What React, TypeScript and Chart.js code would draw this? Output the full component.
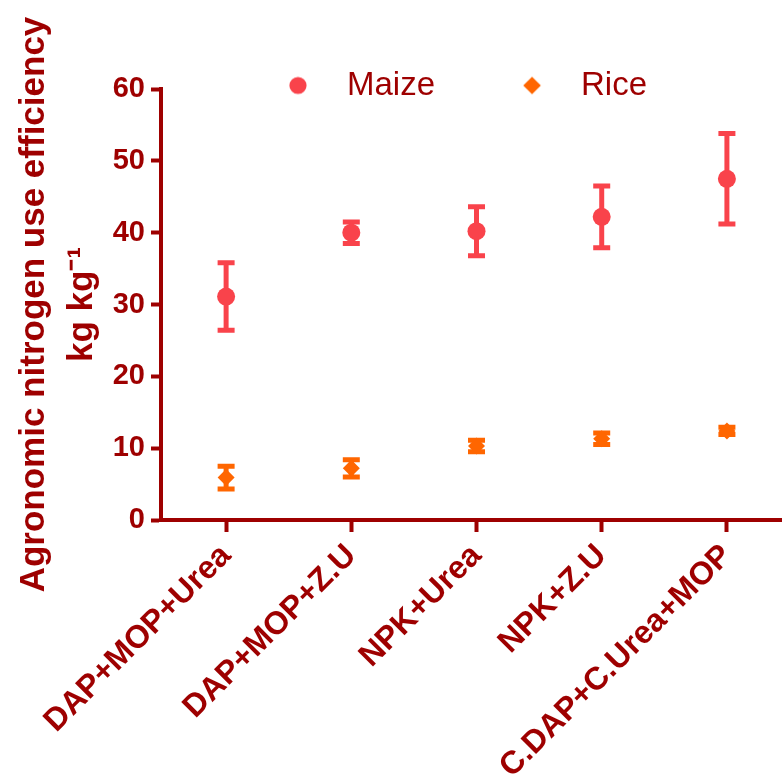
import React, { useEffect, useRef } from 'react';
import { Chart, registerables } from 'chart.js';

Chart.register(...registerables);

const categories = ['DAP+MOP+Urea', 'DAP+MOP+Z.U', 'NPK+Urea', 'NPK+Z.U', 'C.DAP+C.Urea+MOP'];
const seriesNames = ['Maize', 'Rice'];
const maizeMean = [31.1, 40.0, 40.2, 42.2, 47.5];
const maizeErr = [4.7, 1.5, 3.4, 4.3, 6.3];
const riceMean = [5.9, 7.2, 10.3, 11.3, 12.4];
const riceErr = [1.6, 1.2, 0.8, 0.8, 0.5];
const yTitle = ['Agronomic nitrogen use efficiency', 'kg kg\u207B\u00B9'];

const DARK = '#9E0000';
const MAIZE = '#F9434B';
const RICE = '#FF6600';
const FONT = "'Liberation Sans', Arial, sans-serif";

function markerCanvas(kind: string, color: string) {
  const c = document.createElement('canvas');
  c.width = 20;
  c.height = 20;
  const ctx = c.getContext('2d')!;
  ctx.fillStyle = color;
  ctx.beginPath();
  if (kind === 'circle') {
    ctx.arc(10, 10, 8.6, 0, Math.PI * 2);
  } else {
    ctx.moveTo(10, 1.2);
    ctx.lineTo(18.8, 10);
    ctx.lineTo(10, 18.8);
    ctx.lineTo(1.2, 10);
    ctx.closePath();
  }
  ctx.fill();
  return c;
}

const errorBars = {
  id: 'errorBars',
  beforeDatasetsDraw(chart: any) {
    const ctx = chart.ctx;
    const ys = chart.scales.y;
    chart.data.datasets.forEach((ds: any, i: number) => {
      const meta = chart.getDatasetMeta(i);
      meta.data.forEach((pt: any, j: number) => {
        const v = ds.data[j].y;
        const e = ds.errors[j];
        const x = pt.x;
        const top = ys.getPixelForValue(v + e);
        const bot = ys.getPixelForValue(v - e);
        ctx.save();
        ctx.strokeStyle = ds.borderColor;
        ctx.lineWidth = 5;
        ctx.beginPath();
        ctx.moveTo(x, top);
        ctx.lineTo(x, bot);
        ctx.stroke();
        ctx.beginPath();
        ctx.moveTo(x - 8.5, top);
        ctx.lineTo(x + 8.5, top);
        ctx.moveTo(x - 8.5, bot);
        ctx.lineTo(x + 8.5, bot);
        ctx.stroke();
        ctx.restore();
      });
    });
  },
};

const legendPlace = {
  id: 'legendPlace',
  afterLayout(chart: any) {
    const lg = chart.legend;
    if (!lg) return;
    const pad = lg.options.labels.padding;
    lg.left = 265.5 - pad;
    lg.right = chart.width;
    lg.top = 85.5 - pad - 16.5;
    lg.bottom = lg.top + 2 * pad + 60;
  },
};

export default function App() {
  const ref = useRef<HTMLCanvasElement>(null);
  useEffect(() => {
    if (!ref.current) return;
    const markers = [markerCanvas('circle', MAIZE), markerCanvas('diamond', RICE)];
    const yTickFont = { family: FONT, size: 29, weight: 'bold' as const };
    const xTickFont = { family: FONT, size: 32, weight: 'bold' as const };
    const chart = new Chart(ref.current, {
      type: 'scatter',
      data: {
        datasets: [
          {
            label: seriesNames[0],
            data: maizeMean.map((y, i) => ({ x: i, y })),
            errors: maizeErr,
            pointStyle: 'circle',
            pointRadius: 9,
            pointHoverRadius: 9,
            pointBorderWidth: 0,
            backgroundColor: MAIZE,
            borderColor: MAIZE,
            showLine: false,
          } as any,
          {
            label: seriesNames[1],
            data: riceMean.map((y, i) => ({ x: i, y })),
            errors: riceErr,
            pointStyle: 'rectRot',
            pointRadius: 8.5,
            pointHoverRadius: 8.5,
            pointBorderWidth: 0,
            backgroundColor: RICE,
            borderColor: RICE,
            showLine: false,
          } as any,
        ],
      },
      options: {
        animation: false,
        responsive: false,
        layout: { autoPadding: false, padding: { top: 88, left: 0, right: 0, bottom: 0 } },
        plugins: {
          tooltip: { enabled: false },
          legend: {
            display: true,
            position: 'top',
            align: 'start',
            maxHeight: 1,
            labels: {
              usePointStyle: true,
              pointStyleWidth: 65,
              padding: 64.5,
              color: DARK,
              font: { family: FONT, size: 33, weight: 'normal' },
              generateLabels: (chart: any) => {
                const items = Chart.defaults.plugins.legend.labels.generateLabels(chart);
                return items.map((it: any, i: number) => ({ ...it, pointStyle: markers[i] }));
              },
            },
          },
        },
        scales: {
          x: {
            type: 'linear',
            min: -0.52,
            max: 4.44,
            afterBuildTicks: (s: any) => {
              s.ticks = categories.map((_, i) => ({ value: i }));
            },
            afterFit: (s: any) => {
              s.height = 258;
              s.paddingLeft = 0;
              s.paddingRight = 0;
            },
            ticks: {
              autoSkip: false,
              maxRotation: 45,
              minRotation: 45,
              padding: 5,
              color: DARK,
              font: xTickFont,
              callback: (v: any) => categories[v as number] ?? '',
            },
            grid: {
              display: true,
              drawOnChartArea: false,
              drawTicks: true,
              tickLength: 12,
              tickWidth: 4,
              tickColor: DARK,
            },
            border: { display: true, color: DARK, width: 4 },
          },
          y: {
            type: 'linear',
            min: 0,
            max: 60,
            afterFit: (s: any) => {
              s.width = 161;
            },
            ticks: {
              stepSize: 10,
              padding: 6,
              color: DARK,
              font: yTickFont,
            },
            grid: {
              display: true,
              drawOnChartArea: false,
              drawTicks: true,
              tickLength: 10,
              tickWidth: 4,
              tickColor: DARK,
            },
            border: { display: true, color: DARK, width: 4 },
            title: {
              display: true,
              text: yTitle,
              color: DARK,
              font: { family: FONT, size: 35, weight: 'bold', lineHeight: 1.37 },
              padding: { top: 10, bottom: 0 },
            },
          },
        },
      },
      plugins: [errorBars, legendPlace],
    } as any);
    return () => chart.destroy();
  }, []);
  return (
    <div style={{ position: 'fixed', left: 0, top: 0, width: 782, height: 778, overflow: 'hidden', background: '#fff' }}>
      <canvas ref={ref} width={782} height={778} style={{ display: 'block', width: 782, height: 778 }} />
    </div>
  );
}
